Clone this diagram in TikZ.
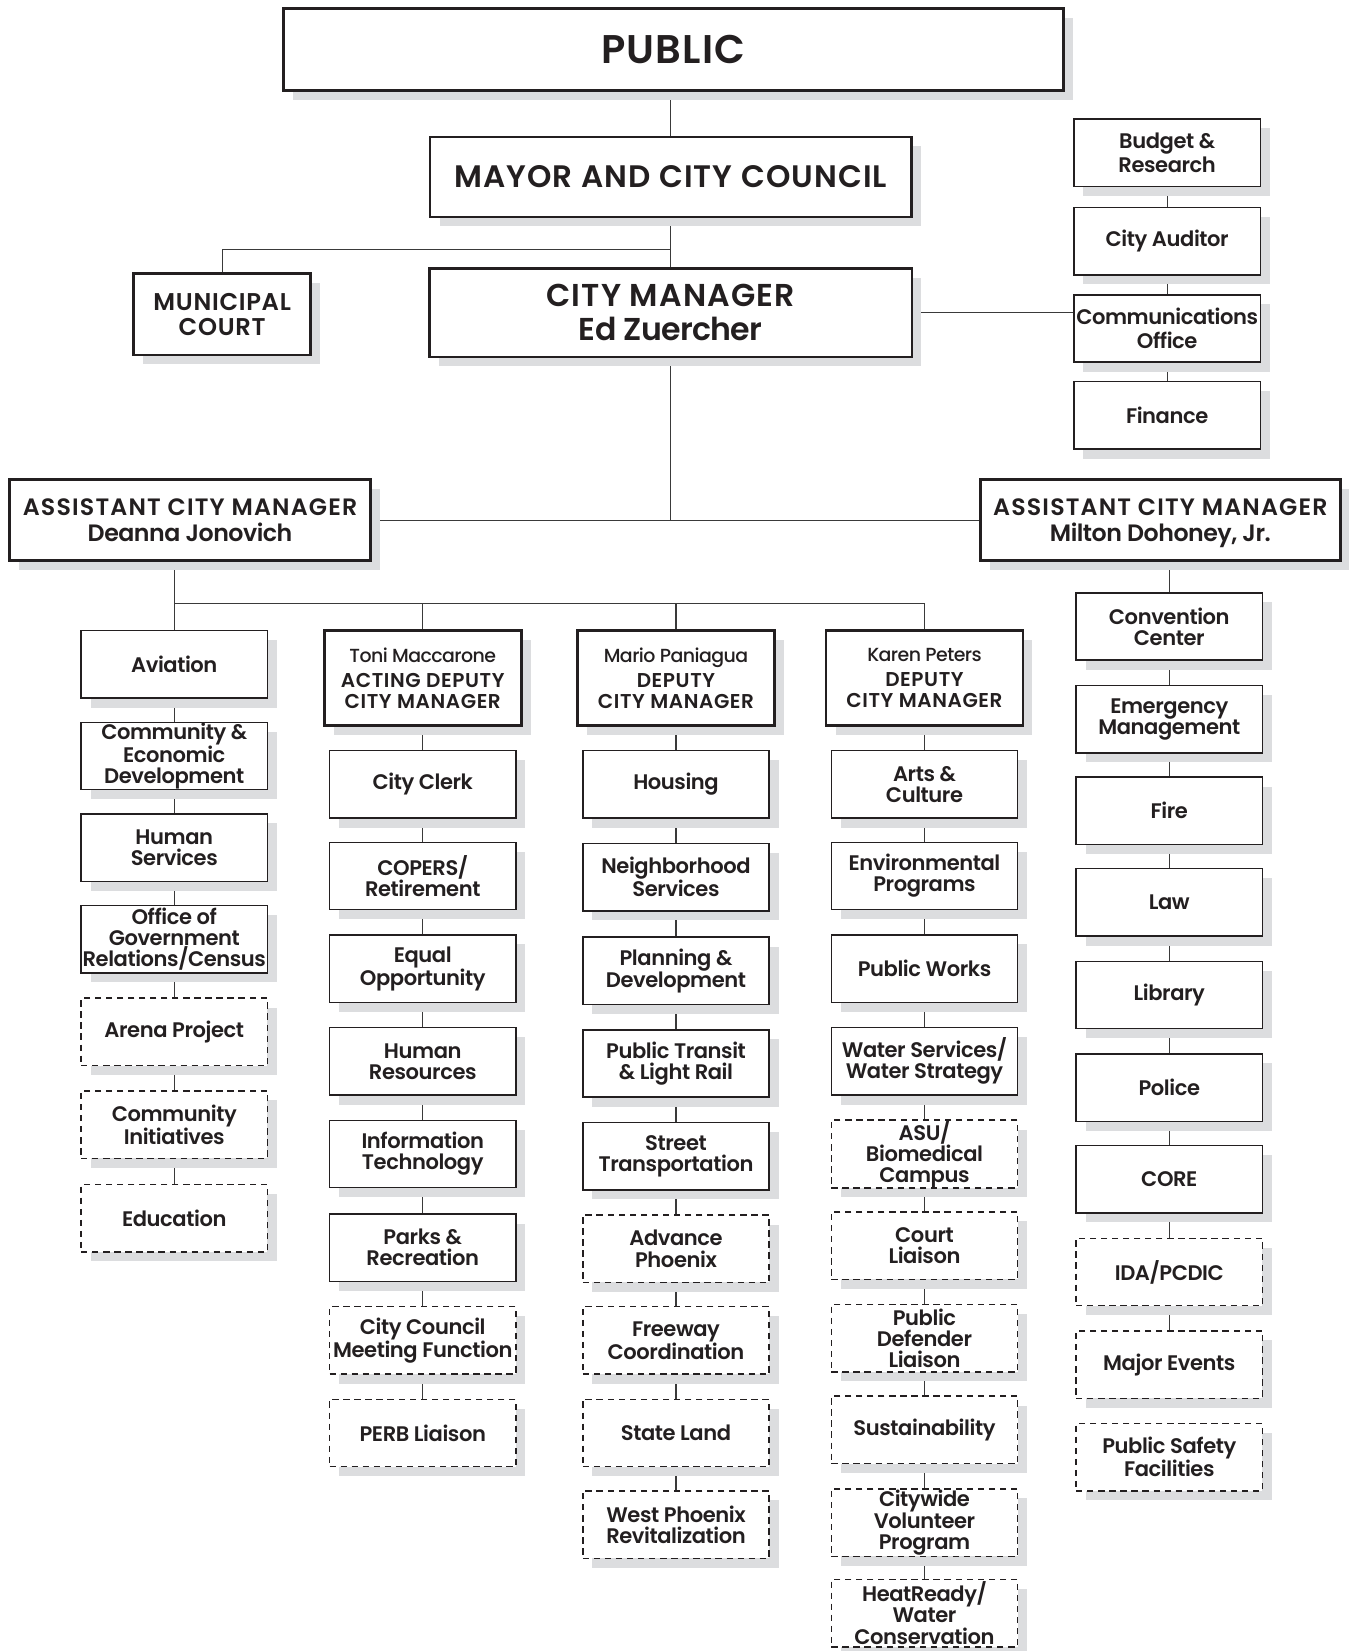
\documentclass[tikz,border=0pt]{standalone}
\usepackage{fontspec}
\IfFontExistsTF{Poppins SemiBold}
  {\setmainfont{Poppins}[BoldFont={Poppins SemiBold}, BoldFeatures={LetterSpace=-2}]
   \newfontfamily\headfont{Poppins SemiBold}}
  {\setmainfont{Poppins}[BoldFeatures={LetterSpace=-2}]
   \newfontfamily\headfont{Poppins Bold}}
\IfFontExistsTF{Poppins Medium}
  {\newfontfamily\namefont{Poppins Medium}[LetterSpace=-3]}
  {\newfontfamily\namefont{Poppins}[LetterSpace=-3]}
\usetikzlibrary{shadows,backgrounds}

\definecolor{ink}{HTML}{231F20}
\definecolor{shade}{HTML}{DCDDDF}
\definecolor{wirecol}{HTML}{3A3A3A}

% tracked capitals for the headings
\newcommand{\tracked}[2]{{\addfontfeature{LetterSpace=#1}#2}}

\begin{document}
\begin{tikzpicture}[x=1pt,y=-1pt,
  box/.style={draw=ink, fill=white, line width=1.4pt, text=ink, align=center, inner sep=0pt,
    font=\bfseries\fontsize{20}{20}\selectfont,
    drop shadow={shadow xshift=9pt, shadow yshift=-9pt, fill=shade, opacity=1}},
  unit/.style={box, minimum width=177pt, minimum height=64pt},
  aux/.style={unit, dash pattern=on 6pt off 4.5pt},
  staff/.style={unit, font=\bfseries\fontsize{20}{22.5}\selectfont},
  head/.style={box, line width=2.5pt},
  deputy/.style={head, minimum width=187pt, minimum height=90pt, font=\headfont\fontsize{19}{20}\selectfont},
  acm/.style={head, minimum width=343pt, minimum height=77pt, text depth=0pt, font=\mdseries\fontsize{22.5}{25}\selectfont},
  wire/.style={draw=wirecol, line width=1.2pt}
]
\useasboundingbox (0,0) rectangle (1281,1568);

% ---- top of the hierarchy
\node[head, minimum width=741pt, minimum height=78pt, font=\headfont\fontsize{38}{40}\selectfont] (public) at (639.5,47) {\tracked{3}{PUBLIC}};
\node[head, minimum width=457pt, minimum height=76pt, font=\headfont\fontsize{29.5}{30}\selectfont] (mayor) at (637,168) {\tracked{3.5}{MAYOR AND CITY COUNCIL}};
\node[head, minimum width=458pt, minimum height=84pt, font=\mdseries\fontsize{30}{32}\selectfont] (cm) at (637,297) {{\headfont\tracked{3.6}{CITY MANAGER}}\\{\bfseries Ed Zuercher}};
\node[head, minimum width=168pt, minimum height=77pt, font=\headfont\fontsize{23}{24}\selectfont] (court) at (211,298.5) {\tracked{3}{MUNICIPAL}\\\tracked{3}{COURT}};

% ---- offices reporting to the city manager
\node[staff] (budget)  at (1108.5,145)   {Budget \&\\Research};
\node[staff] (auditor) at (1108.5,229)   {City Auditor};
\node[staff] (comms)   at (1108.5,312)   {Communications\\Office};
\node[staff] (finance) at (1108.5,394.5) {Finance};

% ---- assistant city managers
\node[acm] (acmL) at (180.5,494) {{\headfont\tracked{5}{ASSISTANT CITY MANAGER}}\\{\bfseries Deanna Jonovich}};
\node[acm, minimum width=342pt] (acmR) at (1102,494) {{\headfont\tracked{5}{ASSISTANT CITY MANAGER}}\\{\bfseries Milton Dohoney, Jr.}};

% ---- deputy city managers
\node[deputy] (toni)  at (401.5,644) {{\namefont\fontsize{18}{20}\selectfont Toni Maccarone}\\[4pt]\tracked{3}{ACTING DEPUTY}\\\tracked{3}{CITY MANAGER}};
\node[deputy] (mario) at (642,644)   {{\namefont\fontsize{18}{20}\selectfont Mario Paniagua}\\[4pt]\tracked{3}{DEPUTY}\\\tracked{3}{CITY MANAGER}};
\node[deputy] (karen) at (878,644)   {{\namefont\fontsize{18}{20}\selectfont Karen Peters}\\[4pt]\tracked{3}{DEPUTY}\\\tracked{3}{CITY MANAGER}};

% ---- departments under Deanna Jonovich
\node[unit] (aviation) at (165.5,631)  {Aviation};
\node[unit] (ced)      at (165.5,718)  {Community \&\\Economic\\Development};
\node[unit] (humserv)  at (165.5,805)  {Human\\Services};
\node[unit] (govrel)   at (165.5,892)  {Office of\\Government\\Relations/Census};
\node[aux]  (arena)    at (165.5,980)  {Arena Project};
\node[aux]  (comminit) at (165.5,1068) {Community\\Initiatives};
\node[aux]  (educ)     at (165.5,1157) {Education};

% ---- departments under Toni Maccarone
\node[unit] (clerk)    at (401.5,745)  {City Clerk};
\node[unit] (copers)   at (401.5,832)  {COPERS/\\Retirement};
\node[unit] (equal)    at (401.5,920)  {Equal\\Opportunity};
\node[unit] (hres)     at (401.5,1008) {Human\\Resources};
\node[unit] (infotech) at (401.5,1096) {Information\\Technology};
\node[unit] (parks)    at (401.5,1185) {Parks \&\\Recreation};
\node[aux]  (meeting)  at (401.5,1273) {City Council\\Meeting Function};
\node[aux]  (perb)     at (401.5,1361) {PERB Liaison};

% ---- departments under Mario Paniagua
\node[unit] (housing)  at (642,745)  {Housing};
\node[unit] (neigh)    at (642,833)  {Neighborhood\\Services};
\node[unit] (planning) at (642,922)  {Planning \&\\Development};
\node[unit] (transit)  at (642,1010) {Public Transit\\\& Light Rail};
\node[unit] (streets)  at (642,1098) {Street\\Transportation};
\node[aux]  (advance)  at (642,1186) {Advance\\Phoenix};
\node[aux]  (freeway)  at (642,1273) {Freeway\\Coordination};
\node[aux]  (stateland) at (642,1361) {State Land};
\node[aux]  (westphx)  at (642,1448) {West Phoenix\\Revitalization};

% ---- departments under Karen Peters
\node[unit] (arts)     at (878,745)  {Arts \&\\Culture};
\node[unit] (environ)  at (878,832)  {Environmental\\Programs};
\node[unit] (pworks)   at (878,920)  {Public Works};
\node[unit] (water)    at (878,1008) {Water Services/\\Water Strategy};
\node[aux]  (asu)      at (878,1096) {ASU/\\Biomedical\\Campus};
\node[aux]  (courtl)   at (878,1183) {Court\\Liaison};
\node[aux]  (defender) at (878,1271) {Public\\Defender\\Liaison};
\node[aux]  (sustain)  at (878,1358) {Sustainability};
\node[aux]  (volunteer) at (878,1446) {Citywide\\Volunteer\\Program};
\node[aux]  (heat)     at (878,1532) {HeatReady/\\Water\\Conservation};

% ---- departments under Milton Dohoney, Jr.
\node[unit] (conv)     at (1110.5,595)  {Convention\\Center};
\node[unit] (emerg)    at (1110.5,683)  {Emergency\\Management};
\node[unit] (fire)     at (1110.5,770)  {Fire};
\node[unit] (law)      at (1110.5,857)  {Law};
\node[unit] (library)  at (1110.5,945)  {Library};
\node[unit] (police)   at (1110.5,1033) {Police};
\node[unit] (core)     at (1110.5,1120) {CORE};
\node[aux]  (ida)      at (1110.5,1208) {IDA/PCDIC};
\node[aux]  (events)   at (1110.5,1296) {Major Events};
\node[aux]  (safety)   at (1110.5,1384) {Public Safety\\Facilities};

% ---- reporting lines, kept behind boxes and shadows
\coordinate (split) at (637,237);
\coordinate (busL) at (165.5,573);
\begin{scope}[on background layer]
  \draw[wire] (mayor.north |- public.south) -- (mayor.north);
  \draw[wire] (mayor.south) -- (cm.north);
  \draw[wire] (split) -| (court.north);
  \draw[wire] (cm.east) -- (cm.east -| comms.west);
  \draw[wire] (budget) -- (auditor) -- (comms) -- (finance);
  \draw[wire] (cm.south) -- (cm.south |- acmL.east);
  \draw[wire] (acmL.east) -- (acmR.west);
  % left branch
  \draw[wire] (acmL.south -| busL) -- (aviation.north);
  \draw[wire] (busL) -| (karen.north);
  \draw[wire] (busL -| toni.north) -- (toni.north);
  \draw[wire] (busL -| mario.north) -- (mario.north);
  \draw[wire] (aviation) -- (ced) -- (humserv) -- (govrel) -- (arena) -- (comminit) -- (educ);
  \draw[wire] (toni) -- (clerk) -- (copers) -- (equal) -- (hres) -- (infotech) -- (parks) -- (meeting) -- (perb);
  \draw[wire] (mario) -- (housing) -- (neigh) -- (planning) -- (transit) -- (streets) -- (advance) -- (freeway) -- (stateland) -- (westphx);
  \draw[wire] (karen) -- (arts) -- (environ) -- (pworks) -- (water) -- (asu) -- (courtl) -- (defender) -- (sustain) -- (volunteer) -- (heat);
  % right branch
  \draw[wire] (acmR.south -| conv.north) -- (conv.north);
  \draw[wire] (conv) -- (emerg) -- (fire) -- (law) -- (library) -- (police) -- (core) -- (ida) -- (events);
\end{scope}
\end{tikzpicture}
\end{document}
